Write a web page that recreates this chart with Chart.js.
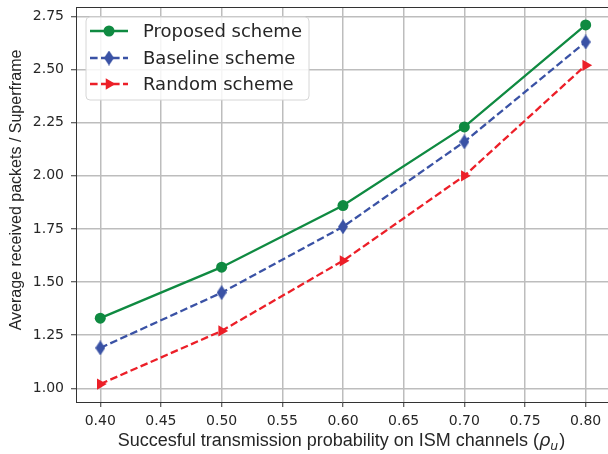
<!DOCTYPE html>
<html><head><meta charset="utf-8">
<script src="https://cdn.jsdelivr.net/npm/chart.js@4/dist/chart.umd.min.js"></script>
<style>html,body{margin:0;padding:0;overflow:hidden;background:#fff}#wrap{width:608px;height:454px;position:relative}</style>
</head><body><div id="wrap"><canvas id="c" width="608" height="454"></canvas></div>
<script>
const xValues = [0.40, 0.50, 0.60, 0.70, 0.80];
const proposed = [1.33, 1.57, 1.86, 2.23, 2.71];
const baseline = [1.19, 1.45, 1.76, 2.16, 2.63];
const randomScheme = [1.02, 1.27, 1.60, 2.00, 2.52];
const seriesNames = ['Proposed scheme', 'Baseline scheme', 'Random scheme'];
const xTicks = [0.40, 0.45, 0.50, 0.55, 0.60, 0.65, 0.70, 0.75, 0.80];
const yTicks = [1.00, 1.25, 1.50, 1.75, 2.00, 2.25, 2.50, 2.75];
const xTitleMain = 'Succesful transmission probability on ISM channels (';
const xTitleSym = '\u03C1', xTitleSub = 'u', xTitleEnd = ')';
const yTitle = 'Average received packets / Superframe';

const GREEN = '#0f8a41', BLUE = '#3a52a5', RED = '#ec1f28';
const FONT = "'DejaVu Sans', sans-serif";
const SANS = "'Liberation Sans', Arial, sans-serif";
const TXT = '#262626';

function thinDiamond(color){
  const c = document.createElement('canvas');
  c.width = 10; c.height = 15;
  const g = c.getContext('2d');
  g.fillStyle = color;
  g.beginPath(); g.moveTo(5,0); g.lineTo(10,7.5); g.lineTo(5,15); g.lineTo(0,7.5); g.closePath(); g.fill();
  return c;
}
const diamond = thinDiamond(BLUE);

const toPts = ys => xValues.map((x,i)=>({x:x, y:ys[i]}));
const noPad = s => { s.paddingLeft = 0; s.paddingRight = 0; s.paddingTop = 0; s.paddingBottom = 0; };

// stretch the plot area to the right edge of the canvas (the reference's right spine is cropped off)
const stretch = {
  id:'stretch',
  afterLayout(chart){
    const a = chart.chartArea;
    a.right = chart.width;
    a.width = a.right - a.left;
    const x = chart.scales.x;
    x.right = chart.width;
    x.width = x.right - x.left;
    x.configure();
  }
};

const frame = {
  id:'frame',
  afterDraw(chart){
    const a = chart.chartArea, ctx = chart.ctx;
    ctx.save(); ctx.strokeStyle = '#333'; ctx.lineWidth = 1.1;
    ctx.beginPath();
    ctx.moveTo(Math.round(a.left), Math.round(a.top)+0.5);
    ctx.lineTo(chart.width + 2, Math.round(a.top)+0.5);
    ctx.stroke();
    ctx.restore();
  }
};

const axisTitles = {
  id:'axisTitles',
  afterDraw(chart){
    const ctx = chart.ctx, xs = chart.scales.x;
    ctx.save();
    ctx.fillStyle = TXT; ctx.textBaseline = 'alphabetic'; ctx.textAlign = 'left';
    const fMain = '18px ' + SANS, fSym = 'oblique 18px ' + FONT, fSub = 'oblique 12.5px ' + FONT;
    ctx.font = fMain; const w1 = ctx.measureText(xTitleMain).width, w4 = ctx.measureText(xTitleEnd).width;
    ctx.font = fSym; const w2 = ctx.measureText(xTitleSym).width;
    ctx.font = fSub; const w3 = ctx.measureText(xTitleSub).width;
    const total = w1 + w2 + w3 + w4 + 1;
    const cx = (xs.getPixelForValue(0.38) + xs.getPixelForValue(0.82)) / 2 - 1.5;
    let x = cx - total / 2; const base = 446;
    ctx.font = fMain; ctx.fillText(xTitleMain, x, base); x += w1;
    ctx.font = fSym; ctx.fillText(xTitleSym, x, base); x += w2;
    ctx.font = fSub; ctx.fillText(xTitleSub, x, base + 3.5); x += w3 + 1;
    ctx.font = fMain; ctx.fillText(xTitleEnd, x, base);
    ctx.translate(21, 190);
    ctx.rotate(-Math.PI / 2);
    ctx.font = '16px ' + SANS; ctx.textAlign = 'center';
    ctx.fillText(yTitle, 0, 0);
    ctx.restore();
  }
};

const boxLegend = {
  id:'boxLegend',
  afterDatasetsDraw(chart){
    const a = chart.chartArea, ctx = chart.ctx;
    const bx = a.left + 10, by = a.top + 10, bw = 223, bh = 83, r = 4;
    ctx.save();
    ctx.beginPath();
    ctx.moveTo(bx+r,by); ctx.lineTo(bx+bw-r,by); ctx.arcTo(bx+bw,by,bx+bw,by+r,r);
    ctx.lineTo(bx+bw,by+bh-r); ctx.arcTo(bx+bw,by+bh,bx+bw-r,by+bh,r);
    ctx.lineTo(bx+r,by+bh); ctx.arcTo(bx,by+bh,bx,by+bh-r,r);
    ctx.lineTo(bx,by+r); ctx.arcTo(bx,by,bx+r,by,r); ctx.closePath();
    ctx.fillStyle = 'rgba(255,255,255,0.85)'; ctx.fill();
    ctx.strokeStyle = '#d6d6d6'; ctx.lineWidth = 1; ctx.stroke();
    const rows = [24, 51, 77];
    chart.data.datasets.forEach((ds, i) => {
      const y = a.top + rows[i];
      const x0 = a.left + 14, x1 = a.left + 52, xm = a.left + 33;
      ctx.beginPath();
      ctx.setLineDash(ds.borderDash || []);
      ctx.strokeStyle = ds.borderColor; ctx.lineWidth = ds.borderWidth;
      ctx.moveTo(x0, y); ctx.lineTo(x1, y); ctx.stroke();
      ctx.setLineDash([]);
      ctx.fillStyle = ds.borderColor; ctx.strokeStyle = ds.borderColor;
      Chart.helpers.drawPoint(ctx, {pointStyle: ds.pointStyle, radius: ds.pointRadius, rotation: ds.pointRotation || 0, borderWidth: 0}, xm, y);
      ctx.fillStyle = TXT; ctx.font = '18px ' + FONT; ctx.textBaseline = 'middle'; ctx.textAlign = 'left';
      ctx.fillText(ds.label, a.left + 67, y + 1);
    });
    ctx.restore();
  }
};

const chart = new Chart(document.getElementById('c'), {
  type: 'line',
  data: {
    datasets: [
      {label: seriesNames[0], data: toPts(proposed), borderColor: GREEN, backgroundColor: GREEN, borderWidth: 2.3,
       pointStyle: 'circle', pointRadius: 5.5, pointBorderWidth: 0, pointBackgroundColor: GREEN},
      {label: seriesNames[1], data: toPts(baseline), borderColor: BLUE, backgroundColor: BLUE, borderWidth: 2.3, borderDash: [7.6, 3.4],
       pointStyle: diamond, pointRadius: 7, pointBorderWidth: 0},
      {label: seriesNames[2], data: toPts(randomScheme), borderColor: RED, backgroundColor: RED, borderWidth: 2.3, borderDash: [7.6, 3.4],
       pointStyle: 'triangle', pointRotation: 90, pointRadius: 6.5, pointBorderWidth: 0, pointBackgroundColor: RED}
    ]
  },
  options: {
    responsive: false, animation: false, devicePixelRatio: 1,
    layout: {padding: {left: 0, right: 0, top: 6, bottom: 0}},
    plugins: {legend: {display: false}, tooltip: {enabled: false}},
    elements: {line: {tension: 0}},
    scales: {
      x: {
        type: 'linear', min: 0.38, max: 0.8184,
        afterBuildTicks: s => { s.ticks = xTicks.map(v => ({value: v})); },
        afterFit: s => { s.height = 52; noPad(s); },
        ticks: {callback: v => v.toFixed(2), color: TXT, font: {family: FONT, size: 14}, padding: 6, maxRotation: 0, autoSkip: false},
        grid: {color: '#bdbdbd', lineWidth: 1.5, tickColor: '#333', tickLength: 5, tickWidth: 1},
        border: {color: '#333', width: 1},
        title: {display: false}
      },
      y: {
        type: 'linear', min: 0.9355, max: 2.7945,
        afterBuildTicks: s => { s.ticks = yTicks.map(v => ({value: v})); },
        afterFit: s => { s.width = 76; noPad(s); },
        ticks: {callback: v => v.toFixed(2), color: TXT, font: {family: FONT, size: 14}, padding: 7, autoSkip: false},
        grid: {color: '#bdbdbd', lineWidth: 1.5, tickColor: '#333', tickLength: 5, tickWidth: 1},
        border: {color: '#333', width: 1},
        title: {display: false}
      }
    }
  },
  plugins: [stretch, frame, axisTitles, boxLegend]
});
</script></body></html>
